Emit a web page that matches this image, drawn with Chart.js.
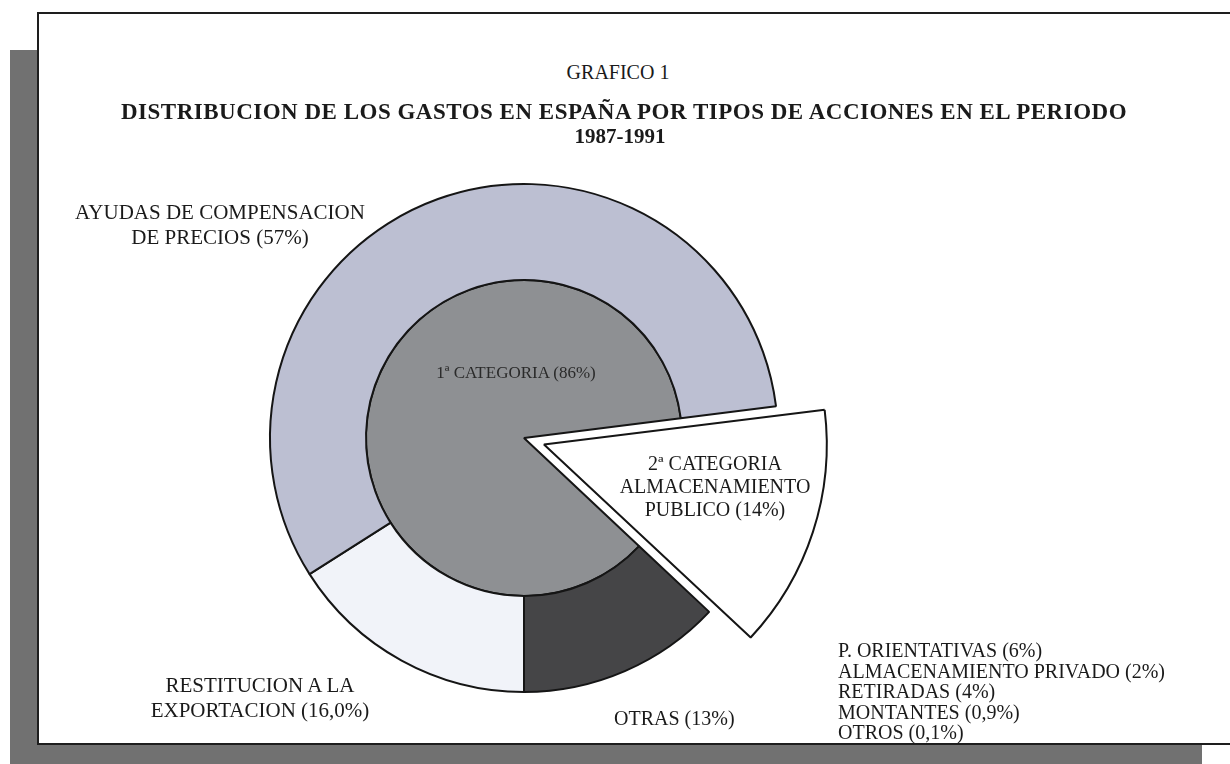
<!DOCTYPE html>
<html>
<head>
<meta charset="utf-8">
<script src="https://cdn.jsdelivr.net/npm/chart.js@4.4.0/dist/chart.umd.min.js"></script>
<style>
  html, body { margin: 0; padding: 0; background: #fff; }
  body { width: 1230px; height: 764px; position: relative; overflow: hidden;
         font-family: "Liberation Serif", "Times New Roman", serif; color: #1a1a1a; }
  .shadow { position: absolute; background: #717171; }
  .panel { position: absolute; left: 37px; top: 12px; width: 1210px; height: 729px;
           border-top: 2px solid #1e1e1e; border-left: 2px solid #1e1e1e; border-bottom: 2px solid #1e1e1e;
           background: #fff; }
  canvas { position: absolute; left: 194px; top: 108px; }
  .txt { position: absolute; font-size: 21px; line-height: 25px; white-space: nowrap; z-index: 5; }
  .c { text-align: center; }
</style>
</head>
<body>
<div class="shadow" style="left:10px;top:50px;width:28px;height:714px"></div>
<div class="shadow" style="left:10px;top:744px;width:1192px;height:20px"></div>
<div class="panel"></div>

<canvas id="pie" width="660" height="660"></canvas>
<canvas id="wedge" width="660" height="660"></canvas>

<div class="txt c" style="left:0;width:1236px;top:60px;font-size:20px">GRAFICO 1</div>
<div class="txt c" style="left:0;width:1248px;top:99px;font-size:23px;letter-spacing:0.5px;font-weight:bold">DISTRIBUCION DE LOS GASTOS EN ESPAÑA POR TIPOS DE ACCIONES EN EL PERIODO</div>
<div class="txt c" style="left:0;width:1240px;top:124px;font-weight:bold">1987-1991</div>

<div id="lblAyudas" class="txt c" style="left:60px;width:320px;top:200px"></div>
<div id="lblCat1" class="txt c" style="left:386px;width:260px;top:360px;font-size:17px;color:#2a2a2a"></div>
<div id="lblCat2" class="txt c" style="left:600px;width:230px;top:452px;font-size:20px;line-height:23px"></div>
<div id="lblRest" class="txt c" style="left:120px;width:280px;top:673px"></div>
<div id="lblOtras" class="txt" style="left:614px;top:706px;font-size:20px"></div>
<div id="lblDetail" class="txt" style="left:838px;top:640px;font-size:20px;line-height:20.5px"></div>

<script>
// anillo exterior (orden horario desde el corte inferior)
const outerLabels = ['OTRAS', 'RESTITUCION A LA EXPORTACION', 'AYUDAS DE COMPENSACION DE PRECIOS', '2ª CATEGORIA ALMACENAMIENTO PUBLICO'];
const outerValues = [13, 16.0, 57, 14];
const outerColors = ['#454547', '#f1f3f9', '#bcbfd2', 'rgba(0,0,0,0)'];

// disco interior
const innerLabels = ['1ª CATEGORIA', '2ª CATEGORIA'];
const innerValues = [86, 14];
const innerColors = ['#8e9093', 'rgba(0,0,0,0)'];

// desglose de OTRAS
const otrasLabels = ['P. ORIENTATIVAS', 'ALMACENAMIENTO PRIVADO', 'RETIRADAS', 'MONTANTES', 'OTROS'];
const otrasValues = [6, 2, 4, 0.9, 0.1];

const fmt = (v, d) => v.toFixed(d === undefined ? (Number.isInteger(v) ? 0 : 1) : d).replace('.', ',') + '%';

const total = outerValues.reduce((a, b) => a + b, 0);
// el corte OTRAS / RESTITUCION queda abajo
const rotation = 180 - 360 * outerValues[0] / total;
const ink = '#151515';

const common = {
  responsive: false,
  animation: false,
  events: [],
  rotation: rotation,
  plugins: { legend: { display: false }, tooltip: { enabled: false } }
};

new Chart(document.getElementById('pie'), {
  type: 'pie',
  data: {
    labels: outerLabels,
    datasets: [
      { data: outerValues, backgroundColor: outerColors, borderColor: ink, borderWidth: [2, 2, 2, 0], weight: 96 },
      { data: innerValues, backgroundColor: innerColors, borderColor: ink, borderWidth: [2, 0], weight: 158 }
    ]
  },
  options: Object.assign({ radius: 254 }, common)
});

// sector destacado de la 2ª categoria
new Chart(document.getElementById('wedge'), {
  type: 'pie',
  data: {
    labels: innerLabels,
    datasets: [{
      data: innerValues,
      backgroundColor: ['rgba(0,0,0,0)', '#ffffff'],
      borderColor: ink,
      borderWidth: [0, 2],
      offset: [0, 84]
    }]
  },
  options: Object.assign({ radius: 278 }, common)
});

// textos
document.getElementById('lblAyudas').innerHTML = 'AYUDAS DE COMPENSACION<br>DE PRECIOS (' + fmt(outerValues[2]) + ')';
document.getElementById('lblCat1').textContent = innerLabels[0] + ' (' + fmt(innerValues[0]) + ')';
document.getElementById('lblCat2').innerHTML = '2ª CATEGORIA<br>ALMACENAMIENTO<br>PUBLICO (' + fmt(innerValues[1]) + ')';
document.getElementById('lblRest').innerHTML = 'RESTITUCION A LA<br>EXPORTACION (' + fmt(outerValues[1], 1) + ')';
document.getElementById('lblOtras').textContent = outerLabels[0] + ' (' + fmt(outerValues[0]) + ')';
document.getElementById('lblDetail').innerHTML = otrasLabels.map((l, i) => l + ' (' + fmt(otrasValues[i]) + ')').join('<br>');
</script>
</body>
</html>
